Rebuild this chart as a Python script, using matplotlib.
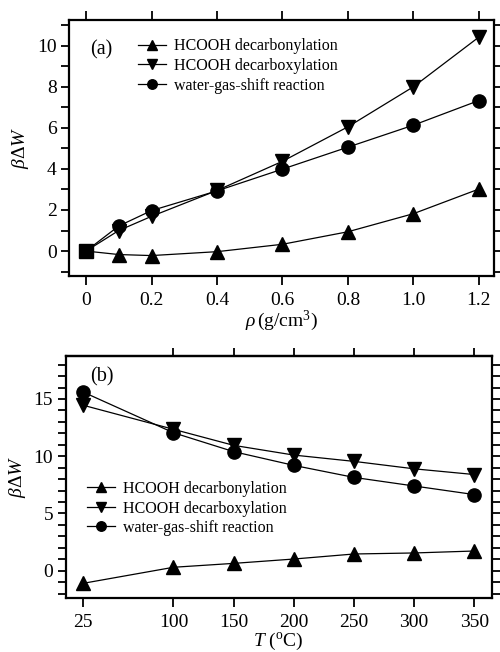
import matplotlib
matplotlib.use("Agg")
import matplotlib.pyplot as plt
from matplotlib.ticker import MultipleLocator, FixedLocator

plt.rcParams['font.family'] = 'serif'
plt.rcParams['font.serif'] = ['Liberation Serif', 'DejaVu Serif']
plt.rcParams['mathtext.fontset'] = 'custom'
plt.rcParams['mathtext.rm'] = 'Liberation Serif'
plt.rcParams['mathtext.it'] = 'Liberation Serif:italic'

# ---- data ----
rho = [0, 0.1, 0.2, 0.4, 0.6, 0.8, 1.0, 1.2]
rho_labels = ['0', '0.2', '0.4', '0.6', '0.8', '1.0', '1.2']
rho_ticks = [0, 0.2, 0.4, 0.6, 0.8, 1.0, 1.2]
a_decarbonyl = [0, -0.17, -0.22, -0.03, 0.33, 0.94, 1.82, 3.02]
a_decarboxyl = [0, 1.0, 1.69, 2.95, 4.37, 6.05, 8.0, 10.42]
a_wgs = [0, 1.22, 1.97, 2.93, 3.99, 5.06, 6.13, 7.33]
origin_x = [0]
origin_y = [0]

T = [25, 100, 150, 200, 250, 300, 350]
b_decarbonyl = [-1.1, 0.3, 0.64, 1.02, 1.46, 1.55, 1.72]
b_decarboxyl = [14.45, 12.35, 10.95, 10.1, 9.55, 8.9, 8.4]
b_wgs = [15.6, 12.05, 10.4, 9.2, 8.15, 7.4, 6.65]

labels = ['HCOOH decarbonylation', 'HCOOH decarboxylation', 'water-gas-shift reaction']

W, H = 500, 652
fig = plt.figure(figsize=(W / 100, H / 100), dpi=100)

def px_axes(l, t, r, b):
    return fig.add_axes([l / W, 1 - b / H, (r - l) / W, (b - t) / H])

ax1 = px_axes(69, 20, 494, 275.7)
ax2 = px_axes(65.7, 355.7, 491.7, 598.3)

lw = 0.9
ms = 9.5
kw = dict(color='black', lw=lw, markersize=ms)

# top panel
ax1.plot(rho, a_decarbonyl, marker='^', markevery=slice(1, None), label=labels[0], **kw)
ax1.plot(rho, a_decarboxyl, marker='v', markevery=slice(1, None), label=labels[1], **kw)
ax1.plot(rho, a_wgs, marker='o', markevery=slice(1, None), label=labels[2], **kw)
ax1.plot(origin_x, origin_y, marker='s', color='black', markersize=10, lw=0)

ax1.set_xlim(-0.052, 1.246)
ax1.set_ylim(-1.2, 11.25)
ax1.set_xticks(rho_ticks)
ax1.set_xticklabels(rho_labels)
ax1.yaxis.set_major_locator(FixedLocator([0, 2, 4, 6, 8, 10]))
ax1.yaxis.set_minor_locator(FixedLocator([-1, 1, 3, 5, 7, 9, 11]))
ax1.set_xlabel(r'$\rho\,$(g/cm$^3$)', fontsize=14, labelpad=0)
ax1.set_ylabel(r'$\beta\Delta W$', fontsize=14, labelpad=4)
ax1.text(90 / W, 1 - 50 / H, '(a)', transform=fig.transFigure, fontsize=14.5, va='center', ha='left')
leg1 = ax1.legend(loc='upper left', bbox_to_anchor=(138 / W, 1 - 38.5 / H), bbox_transform=fig.transFigure,
                  frameon=False, fontsize=11.5, borderpad=0, borderaxespad=0, handlelength=1.75,
                  handletextpad=0.5, labelspacing=0.22, markerscale=0.72)

# bottom panel
ax2.plot(T, b_decarbonyl, marker='^', label=labels[0], **kw)
ax2.plot(T, b_decarboxyl, marker='v', label=labels[1], **kw)
ax2.plot(T, b_wgs, marker='o', label=labels[2], **kw)
ax2.set_xlim(10.4, 364.5)
ax2.set_ylim(-2.41, 18.78)
ax2.set_xticks(T)
ax2.yaxis.set_major_locator(FixedLocator([0, 5, 10, 15]))
ax2.yaxis.set_minor_locator(MultipleLocator(1))
ax2.set_xlabel(r'$T$ ($^{\mathrm{o}}$C)', fontsize=14, labelpad=0)
ax2.set_ylabel(r'$\beta\Delta W$', fontsize=14, labelpad=4)
ax2.text(90 / W, 1 - 377 / H, '(b)', transform=fig.transFigure, fontsize=14.5, va='center', ha='left')
leg2 = ax2.legend(loc='upper left', bbox_to_anchor=(87 / W, 1 - 481 / H), bbox_transform=fig.transFigure,
                  frameon=False, fontsize=11.5, borderpad=0, borderaxespad=0, handlelength=1.75,
                  handletextpad=0.5, labelspacing=0.22, markerscale=0.72)

sec = ax2.secondary_xaxis('top')
sec.set_xticks(T[1:])
sec.tick_params(axis='x', direction='out', length=6, width=1.3, labeltop=False)
sec.spines['top'].set_linewidth(1.6)

for ax in (ax1, ax2):
    for s in ax.spines.values():
        s.set_linewidth(1.6)
    ax.tick_params(axis='both', which='both', direction='out', width=1.3, labelsize=14)
    ax.tick_params(axis='y', which='both', length=5.5, left=True, right=True)
    ax.tick_params(axis='x', which='major', length=6.5, pad=5)
ax1.tick_params(axis='x', top=True)
ax2.tick_params(axis='x', top=False)

fig.savefig('out.png', dpi=100)
